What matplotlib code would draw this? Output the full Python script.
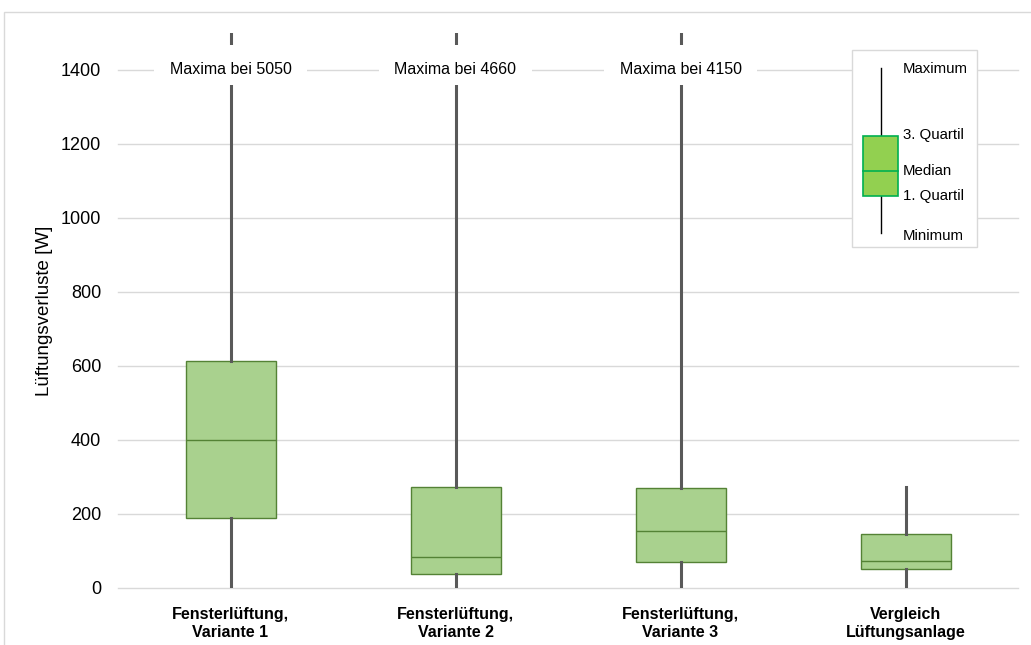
import matplotlib
matplotlib.use("Agg")
import matplotlib.pyplot as plt
from matplotlib.patches import Rectangle
from matplotlib.lines import Line2D

plt.rcParams['font.family'] = ['Liberation Sans', 'DejaVu Sans']

# Box statistics (W)
categories = ["Fensterlüftung,\nVariante 1", "Fensterlüftung,\nVariante 2",
              "Fensterlüftung,\nVariante 3", "Vergleich\nLüftungsanlage"]
minima = [0, 0, 0, 2]
q1 = [190, 38, 70, 51]
medians = [400, 84, 154, 73]
q3 = [613, 273, 270, 147]
maxima = [5050, 4660, 4150, 272]
yticks = [0, 200, 400, 600, 800, 1000, 1200, 1400]
y_max = 1500
label_y = 1400

box_fill = "#A9D18E"
box_edge = "#548235"
whisker_col = "#595959"
grid_col = "#D9D9D9"

fig = plt.figure(figsize=(10.31, 6.45), dpi=100)
ax = fig.add_axes([118 / 1031, 57 / 645, 900 / 1031, 555 / 645])

# outer chart frame
fig.add_artist(Rectangle((4 / 1031, -0.1), 1.2, (645 - 12) / 645 + 0.1,
                         transform=fig.transFigure, fill=False,
                         edgecolor=grid_col, linewidth=1.0))

stats = []
for i in range(len(categories)):
    stats.append(dict(med=medians[i], q1=q1[i], q3=q3[i],
                      whislo=minima[i], whishi=maxima[i], fliers=[]))

pos = list(range(len(categories)))
ax.bxp(stats, positions=pos, widths=0.4, patch_artist=True, showcaps=False,
       boxprops=dict(facecolor=box_fill, edgecolor=box_edge, linewidth=1.0),
       medianprops=dict(color=box_edge, linewidth=1.0),
       whiskerprops=dict(color=whisker_col, linewidth=2.2),
       zorder=3)

# note for whiskers running off the scale, on a white patch
for x, m in zip(pos, maxima):
    if m > y_max:
        ax.add_patch(Rectangle((x - 0.342, label_y - 41), 0.684, 109,
                               facecolor="white", edgecolor="none", zorder=4))
        ax.text(x, label_y, f"Maxima bei {m}", ha="center", va="center",
                fontsize=11.5, zorder=5)

ax.set_xlim(-0.5, len(categories) - 0.5)
ax.set_ylim(0, y_max)
ax.set_yticks(yticks)
ax.set_xticks(pos)
ax.set_xticklabels(categories, fontsize=11.5, fontweight="bold")
ax.tick_params(axis="y", length=0, pad=12, labelsize=13)
ax.tick_params(axis="x", length=0, pad=14)
ax.yaxis.grid(True, color=grid_col, linewidth=1.0)
for gl in ax.get_ygridlines():
    gl.set_clip_on(False)
ax.set_axisbelow(True)
for s in ax.spines.values():
    s.set_visible(False)
ax.set_ylabel("Lüftungsverluste [W]", fontsize=13.5, labelpad=6)

# key explaining the box elements
tr = ax.transAxes
ax.add_patch(Rectangle((0.8156, 0.6144), 0.1389, 0.3550, transform=tr,
                       facecolor="white", edgecolor=grid_col, linewidth=1.0,
                       zorder=6))
ax.add_line(Line2D([0.8478, 0.8478], [0.6396, 0.9369], transform=tr,
                   color="black", linewidth=1.0, zorder=7))
ax.add_patch(Rectangle((0.8278, 0.7063), 0.0389, 0.1081, transform=tr,
                       facecolor="#92D050", edgecolor="#00B050",
                       linewidth=1.2, zorder=8))
ax.add_line(Line2D([0.8278, 0.8667], [0.7514, 0.7514], transform=tr,
                   color="#00B050", linewidth=1.2, zorder=9))
key_labels = [("Maximum", 69), ("3. Quartil", 135), ("Median", 171),
              ("1. Quartil", 196), ("Minimum", 236)]
for txt, py in key_labels:
    ax.text((903 - 118) / 900, (588 - py) / 555, txt, transform=tr,
            ha="left", va="center", fontsize=10.8, zorder=9)

fig.savefig("out.png", dpi=100)
